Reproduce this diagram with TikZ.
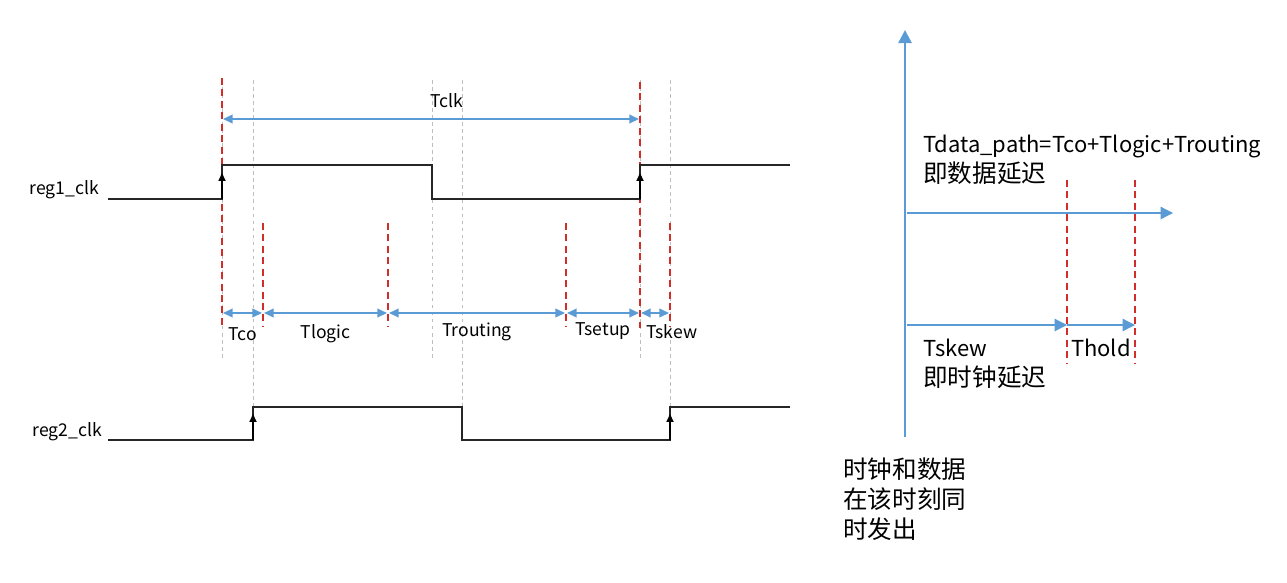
\documentclass[tikz,border=0pt]{standalone}
\usepackage{fontspec}
\setmainfont{Noto Sans CJK SC}
\usetikzlibrary{arrows.meta}
\definecolor{waveblue}{RGB}{91, 155, 213}
\definecolor{markred}{RGB}{210, 45, 40}
\definecolor{guidegray}{RGB}{190, 190, 190}
\newcommand{\cjksize}{\fontsize{14}{17}\selectfont}

\begin{document}
\begin{tikzpicture}[x=0.02cm, y=-0.02cm, >=Latex,
    wave/.style={line width=0.9pt, black!85},
    edge_up/.style={-{Triangle[length=4.5pt, width=4pt]}, line width=0.9pt, black},
    guide/.style={guidegray, line width=0.5pt, dash pattern=on 2pt off 2pt},
    mark_red/.style={markred, line width=1.1pt, dash pattern=on 4pt off 2.5pt},
    span/.style={{Triangle[length=5.5pt, width=5pt]}-{Triangle[length=5.5pt, width=5pt]},
                 waveblue, line width=0.9pt, shorten <=0.6pt, shorten >=0.6pt},
    axis/.style={-{Triangle[length=7.5pt, width=7.5pt]}, waveblue, line width=1.5pt},
    flow/.style={-{Triangle[length=7pt, width=7pt]}, waveblue, line width=0.7pt},
    tlabel/.style={font=\fontsize{10}{12}\selectfont, text=black, inner sep=1pt},
    note/.style={font=\fontsize{12.5}{17}\selectfont, text=black, inner sep=0pt,
                 align=left, anchor=west},
]
\useasboundingbox (0,0) rectangle (1287,582);

% --- Coordinates ---
\def\xs{108}
\def\xa{222}
\def\xb{253}
\def\xc{432}
\def\xd{462}
\def\xe{640}
\def\xf{670}
\def\xend{790}

\def\yAhi{165}
\def\yAlo{199}
\def\yBhi{407}
\def\yBlo{440}
\def\yspan{313}

% --- Guide lines (gray dotted) ---
\foreach \x in {\xa, \xc, \xe}
    \draw[guide] (\x, 80) -- (\x, 358);
\foreach \x in {\xb, \xd, \xf}
    \draw[guide] (\x, 80) -- (\x, \yBhi);

% --- Red markers ---
\draw[mark_red] (\xa, 78) -- (\xa, 328);
\draw[mark_red] (\xe, 82) -- (\xe, 328);
\foreach \x in {263, 388, 566, 670}
    \draw[mark_red] (\x, 223) -- (\x, 327);

% --- reg1_clk ---
\node[tlabel, anchor=east] (reg1) at (101, 190) {reg1\_clk};
\draw[wave] (\xs, \yAlo) -- (\xa, \yAlo) -- (\xa, \yAhi) -- (\xc, \yAhi)
            -- (\xc, \yAlo) -- (\xe, \yAlo) -- (\xe, \yAhi) -- (\xend, \yAhi);
\draw[edge_up] (\xa, \yAlo) -- (\xa, 173);
\draw[edge_up] (\xe, \yAlo) -- (\xe, 173);

% --- reg2_clk ---
\node[tlabel, anchor=east] (reg2) at (104, 432) {reg2\_clk};
\draw[wave] (\xs, \yBlo) -- (\xb, \yBlo) -- (\xb, \yBhi) -- (\xd, \yBhi)
            -- (\xd, \yBlo) -- (\xf, \yBlo) -- (\xf, \yBhi) -- (\xend, \yBhi);
\draw[edge_up] (\xb, \yBlo) -- (\xb, 414);
\draw[edge_up] (\xf, \yBlo) -- (\xf, 414);

% --- Clock period ---
\coordinate (clk0) at (\xa, 119);
\coordinate (clk1) at (\xe, 119);
\draw[span] (clk0) -- (clk1);
\node[tlabel] (lclk) at (447, 101) {Tclk};

% --- Delay spans ---
\coordinate (m0) at (\xa, \yspan);
\coordinate (m1) at (263, \yspan);
\coordinate (m2) at (388, \yspan);
\coordinate (m3) at (566, \yspan);
\coordinate (m4) at (\xe, \yspan);
\coordinate (m5) at (\xf, \yspan);

\draw[span] (m0) -- (m1) node[tlabel, midway, yshift=-12pt] (lco) {Tco};
\draw[span] (m1) -- (m2) node[tlabel, midway, yshift=-12pt] (llogic) {Tlogic};
\draw[span] (m2) -- (m3) node[tlabel, midway, yshift=-10.5pt] (lrouting) {Trouting};
\draw[span] (m3) -- (m4) node[tlabel, midway, yshift=-10.5pt] (lsetup) {Tsetup};
\draw[span] (m4) -- (m5) node[tlabel, midway, yshift=-10.5pt, xshift=9.5pt] (lskew) {Tskew};

% --- Right: time axis ---
\coordinate (ax0) at (905, 437);
\coordinate (ax1) at (905, 30);
\draw[axis] (ax0) -- (ax1);

\coordinate (d0) at (907, 213);
\coordinate (d1) at (1173, 213);
\draw[flow] (d0) -- (d1);

\coordinate (c0) at (907, 325);
\coordinate (c1) at (1067, 325);
\coordinate (c2) at (1135, 325);
\draw[flow] (c0) -- (c1);
\draw[flow] (c1) -- (c2);

\draw[mark_red] (1067, 180) -- (1067, 363);
\draw[mark_red] (1135, 180) -- (1135, 363);

% --- Right: notes ---
\node[note] (ndata) at (923, 160) {Tdata\_path=Tco+Tlogic+Trouting\\{\cjksize 即数据延迟}};
\node[note] (nskew) at (923, 364) {Tskew\\{\cjksize 即时钟延迟}};
\node[note, anchor=center] (nhold) at (1101, 348) {Thold};
\node[note, font=\cjksize] (nsend) at (843, 499) {时钟和数据\\在该时刻同\\时发出};

\end{tikzpicture}
\end{document}
